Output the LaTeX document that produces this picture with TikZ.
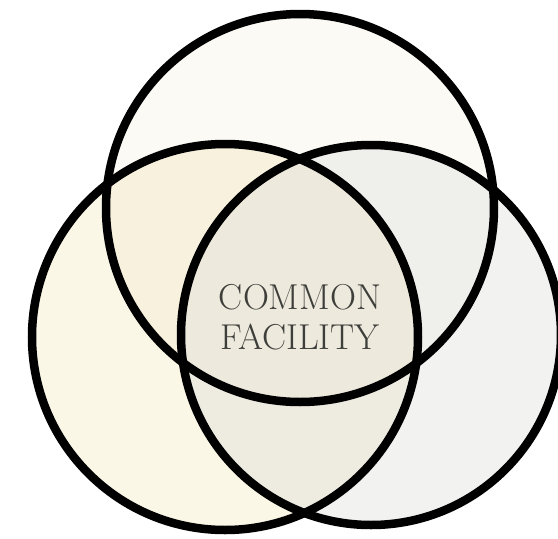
\documentclass[tikz,border=0pt]{standalone}
\usepackage{fontspec}
\definecolor{topfill}{HTML}{FBFAF5}
\definecolor{leftfill}{HTML}{FAF7E7}
\definecolor{rightfill}{HTML}{F2F2F1}
\definecolor{tlfill}{HTML}{F7F1DE}
\definecolor{trfill}{HTML}{EFEFEC}
\definecolor{lrfill}{HTML}{EEECE1}
\definecolor{midfill}{HTML}{EDE9DD}
\definecolor{labeltext}{HTML}{3E3E3A}
\begin{document}
\begin{tikzpicture}[x=1pt,y=-1pt,
    ring/.style={draw=black,line width=8.5pt},
    label node/.style={align=center,text=labeltext,
      font=\fontsize{36}{40}\selectfont\addfontfeatures{LetterSpace=10}}]

    \useasboundingbox (0,0) rectangle (558,539);

    \coordinate (top) at (300,208);
    \coordinate (left) at (225,337);
    \coordinate (right) at (371,335);

    % single regions
    \fill[topfill] (top) circle[radius=194pt];
    \fill[leftfill] (left) circle[radius=193pt];
    \fill[rightfill] (right) circle[radius=190pt];

    % overlaps
    \begin{scope}
      \clip (top) circle[radius=194pt];
      \fill[tlfill] (left) circle[radius=193pt];
      \fill[trfill] (right) circle[radius=190pt];
    \end{scope}
    \begin{scope}
      \clip (left) circle[radius=193pt];
      \fill[lrfill] (right) circle[radius=190pt];
    \end{scope}
    \begin{scope}
      \clip (top) circle[radius=194pt];
      \clip (left) circle[radius=193pt];
      \fill[midfill] (right) circle[radius=190pt];
    \end{scope}

    \draw[ring] (top) circle[radius=194pt];
    \draw[ring] (left) circle[radius=193pt];
    \draw[ring] (right) circle[radius=190pt];

    \node[label node] (common) at (300,317) {COMMON\\FACILITY};
\end{tikzpicture}
\end{document}
